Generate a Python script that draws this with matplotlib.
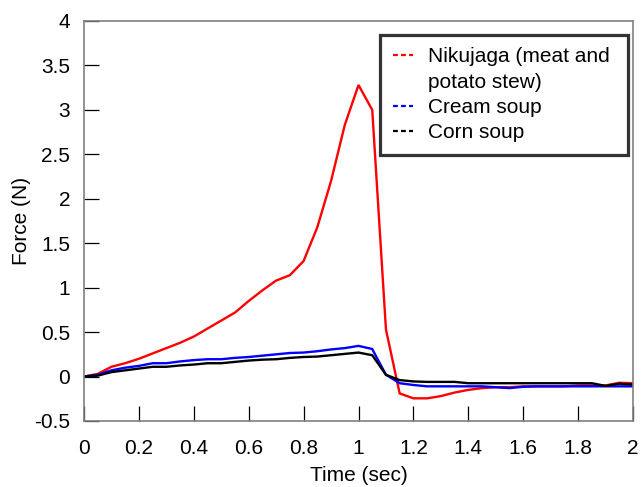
import matplotlib
matplotlib.use("Agg")
import matplotlib.pyplot as plt
from matplotlib.lines import Line2D
import numpy as np

plt.rcParams['font.family'] = ['Liberation Sans', 'DejaVu Sans']

time = [0.0, 0.05, 0.1, 0.15, 0.2, 0.25, 0.3, 0.35, 0.4, 0.45, 0.5, 0.55, 0.6, 0.65,
        0.7, 0.75, 0.8, 0.85, 0.9, 0.95, 1.0, 1.05, 1.1, 1.15, 1.2, 1.25, 1.3, 1.35,
        1.4, 1.45, 1.5, 1.55, 1.6, 1.65, 1.7, 1.75, 1.8, 1.85, 1.9, 1.95, 2.0]

nikujaga = [0.0, 0.03, 0.11, 0.15, 0.2, 0.26, 0.32, 0.38, 0.45, 0.54, 0.63, 0.72, 0.85, 0.97,
            1.08, 1.14, 1.30, 1.68, 2.2, 2.83, 3.28, 3.0, 0.53, -0.19, -0.245, -0.245, -0.22, -0.18,
            -0.15, -0.13, -0.12, -0.12, -0.11, -0.11, -0.11, -0.11, -0.10, -0.10, -0.10, -0.07, -0.075]

cream_soup = [0.0, 0.02, 0.07, 0.10, 0.12, 0.15, 0.15, 0.17, 0.185, 0.195, 0.195, 0.21, 0.22, 0.235,
              0.25, 0.265, 0.27, 0.285, 0.305, 0.32, 0.345, 0.31, 0.02, -0.075, -0.095, -0.11, -0.11, -0.11,
              -0.11, -0.11, -0.12, -0.13, -0.115, -0.11, -0.11, -0.11, -0.11, -0.11, -0.11, -0.11, -0.11]

corn_soup = [0.0, 0.01, 0.05, 0.07, 0.09, 0.11, 0.11, 0.125, 0.135, 0.15, 0.15, 0.165, 0.18, 0.19,
             0.195, 0.21, 0.22, 0.225, 0.24, 0.255, 0.27, 0.24, 0.02, -0.04, -0.055, -0.06, -0.06, -0.06,
             -0.075, -0.075, -0.075, -0.075, -0.075, -0.075, -0.075, -0.075, -0.075, -0.075, -0.105, -0.08, -0.09]

series_labels = ["Nikujaga (meat and\npotato stew)", "Cream soup", "Corn soup"]
colors = ["#ff0000", "#0000ff", "#000000"]

xticks = [0, 0.2, 0.4, 0.6, 0.8, 1.0, 1.2, 1.4, 1.6, 1.8, 2.0]
xticklabels = ["0", "0.2", "0.4", "0.6", "0.8", "1", "1.2", "1.4", "1.6", "1.8", "2"]
yticks = [-0.5, 0, 0.5, 1, 1.5, 2, 2.5, 3, 3.5, 4]
yticklabels = ["-0.5", "0", "0.5", "1", "1.5", "2", "2.5", "3", "3.5", "4"]

FS = 15

fig = plt.figure(figsize=(6.41, 4.87), dpi=100)
ax = fig.add_axes([84/641, 66/487, 549/641, 400/487])

for ys, c in zip([nikujaga, cream_soup, corn_soup], colors):
    ax.plot(time, ys, color=c, lw=1.7, solid_joinstyle='miter')

ax.set_xlim(0, 2)
ax.set_ylim(-0.5, 4)
ax.set_xticks(xticks)
ax.set_xticklabels(xticklabels)
ax.set_yticks(yticks)
ax.set_yticklabels(yticklabels)
ax.tick_params(direction='in', length=10.8, width=0.9, color='black', labelsize=FS,
               top=False, right=False)
ax.tick_params(axis='x', pad=13)
ax.tick_params(axis='y', pad=10)
for s in ax.spines.values():
    s.set_color('#808080')
    s.set_linewidth(1.2)

ax.set_xlabel("Time (sec)", fontsize=FS, labelpad=5.5)
ax.set_ylabel("Force (N)", fontsize=FS, labelpad=2)

first, second = series_labels[0].split("\n")
dash = (0, (2.2, 1.4))
handles = [Line2D([], [], color=colors[0], lw=1.6, linestyle=dash),
           Line2D([], [], color='none'),
           Line2D([], [], color=colors[1], lw=1.6, linestyle=dash),
           Line2D([], [], color=colors[2], lw=1.6, linestyle=dash)]
labels = [first, second, series_labels[1], series_labels[2]]
x0 = (380 - 84) / 549
x1 = (628 - 84) / 549
ytop = (421 - 35) / 400
leg = ax.legend(handles, labels, loc='upper right', bbox_to_anchor=(x0, 0, x1 - x0, ytop),
                mode='expand', borderaxespad=0, fontsize=FS, frameon=True, fancybox=False,
                handlelength=1.0, handletextpad=0.7, labelspacing=0.3,
                borderpad=0.6)
leg.get_frame().set_edgecolor('black')
leg.get_frame().set_linewidth(2.3)

fig.savefig("out.png", dpi=100)
